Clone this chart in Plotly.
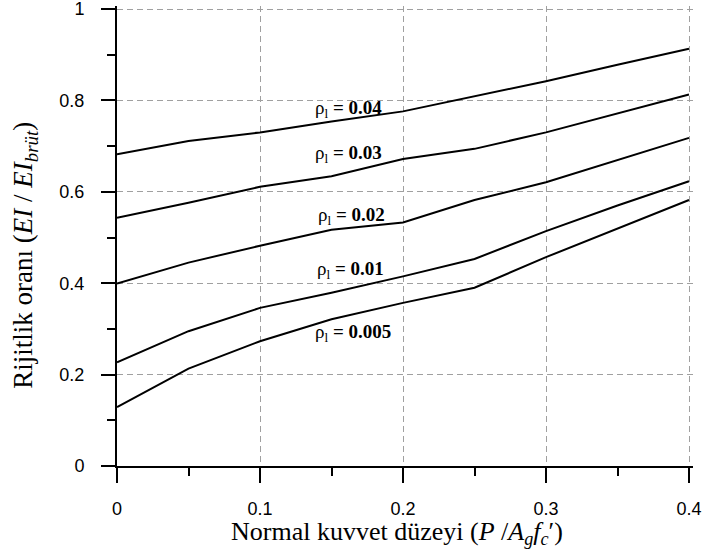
import plotly.graph_objects as go

# Axial load level P / (Ag f'c)
load_level = [0.00, 0.05, 0.10, 0.15, 0.20, 0.25, 0.30, 0.35, 0.40]

# Effective stiffness ratio EI / EI_gross for each longitudinal reinforcement ratio
rho_004 = [0.682, 0.711, 0.730, 0.754, 0.776, 0.809, 0.842, 0.878, 0.913]
rho_003 = [0.543, 0.576, 0.611, 0.634, 0.672, 0.694, 0.730, 0.771, 0.813]
rho_002 = [0.399, 0.445, 0.482, 0.517, 0.533, 0.582, 0.621, 0.670, 0.718]
rho_001 = [0.227, 0.295, 0.346, 0.379, 0.415, 0.453, 0.514, 0.570, 0.623]
rho_0005 = [0.129, 0.213, 0.273, 0.321, 0.357, 0.390, 0.457, 0.520, 0.582]

series = [
    ("0.04", rho_004),
    ("0.03", rho_003),
    ("0.02", rho_002),
    ("0.01", rho_001),
    ("0.005", rho_0005),
]

# Where each curve label sits (data coordinates)
label_x = [0.162, 0.162, 0.164, 0.163, 0.165]
label_y = [0.782, 0.682, 0.546, 0.430, 0.290]

SERIF = "Times New Roman, Liberation Serif, serif"
SANS = "Arial, Liberation Sans, sans-serif"

fig = go.Figure()
for name, vals in series:
    fig.add_trace(go.Scatter(
        x=load_level, y=vals, mode="lines",
        line=dict(color="black", width=2),
        name=name, showlegend=False, hoverinfo="skip",
    ))

for (name, _), lx, ly in zip(series, label_x, label_y):
    fig.add_annotation(
        x=lx, y=ly, xref="x", yref="y",
        text="ρ<sub>l</sub> <b>= " + name + "</b>",
        showarrow=False, font=dict(family=SERIF, size=19, color="black"),
    )

grid = dict(showgrid=True, gridcolor="#a0a0a0", gridwidth=1, griddash="6px,4px")

# Ranges run a hair past the last tick so the dashed grid at 0.4 and 1 stays visible
fig.update_xaxes(
    range=[0, 0.4028], tickvals=[0, 0.1, 0.2, 0.3, 0.4],
    ticktext=["0", "0.1", "0.2", "0.3", "0.4"],
    ticks="outside", ticklen=15, tickwidth=2, tickcolor="black",
    minor=dict(tickvals=[0.05, 0.15, 0.25, 0.35], ticks="outside", ticklen=8,
               tickwidth=2, tickcolor="black", showgrid=False),
    showline=True, linecolor="black", linewidth=2,
    zeroline=False, ticklabelstandoff=10, ticklabeloverflow="allow",
    automargin=False,
    tickfont=dict(family=SANS, size=18, color="black"),
    **grid,
)
fig.update_yaxes(
    range=[0, 1.0066], tickvals=[0, 0.2, 0.4, 0.6, 0.8, 1.0],
    ticktext=["0", "0.2", "0.4", "0.6", "0.8", "1"],
    ticks="outside", ticklen=14, tickwidth=2, tickcolor="black",
    minor=dict(tickvals=[0.1, 0.3, 0.5, 0.7, 0.9], ticks="outside", ticklen=8,
               tickwidth=2, tickcolor="black", showgrid=False),
    showline=True, linecolor="black", linewidth=2,
    zeroline=False, ticklabelstandoff=13, ticklabeloverflow="allow",
    automargin=False,
    tickfont=dict(family=SANS, size=18, color="black"),
    **grid,
)

# Axis titles
fig.add_annotation(
    xref="paper", yref="paper", x=(397 - 117) / 576, y=-0.145,
    text="Normal kuvvet düzeyi (<i>P</i> /<i>A<sub>g</sub>f<sub>c</sub></i>′)",
    showarrow=False, xanchor="center", yanchor="middle",
    font=dict(family=SERIF, size=26, color="black"),
)
fig.add_annotation(
    xref="paper", yref="paper", x=(25 - 117) / 576, y=0.457,
    text="Rijitlik oranı (<i>EI</i> / <i>EI<sub>brüt</sub></i>)",
    textangle=-90, showarrow=False, xanchor="center", yanchor="middle",
    font=dict(family=SERIF, size=27, color="black"),
)

fig.update_layout(
    width=705, height=551,
    margin=dict(l=117, r=12, t=6, b=85, autoexpand=False),
    plot_bgcolor="white", paper_bgcolor="white",
)

fig.write_html("out.html")
